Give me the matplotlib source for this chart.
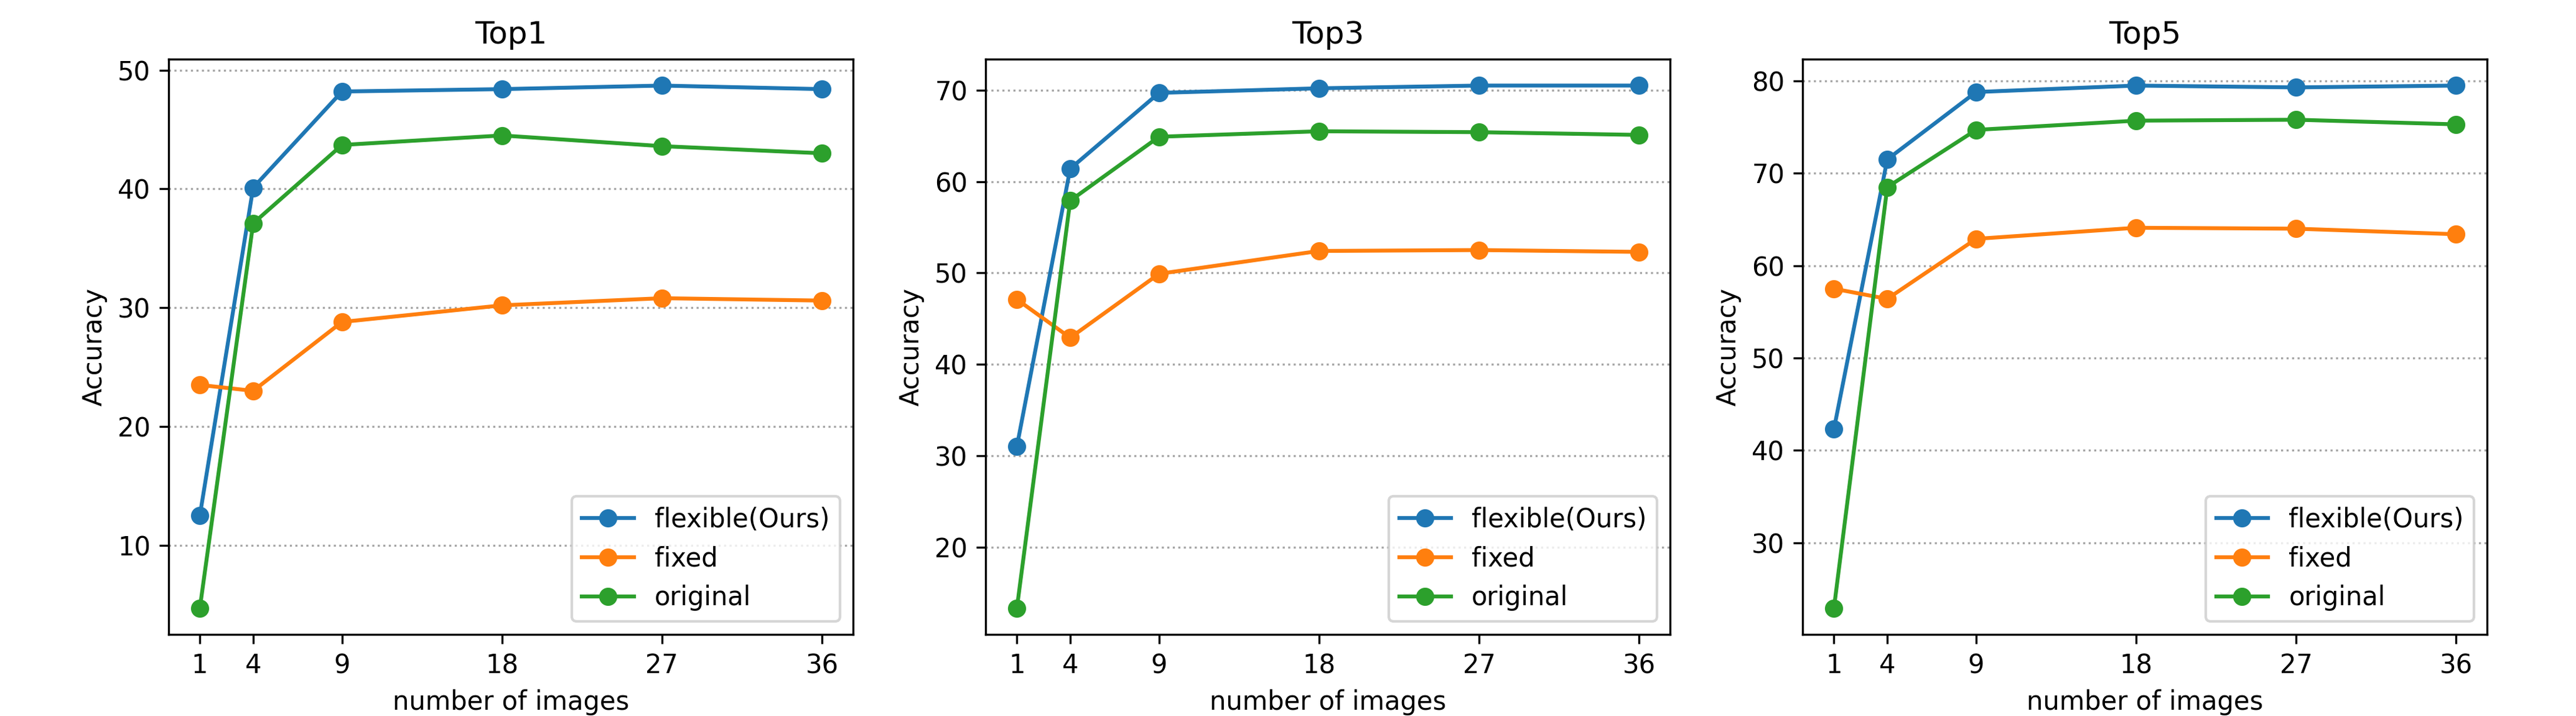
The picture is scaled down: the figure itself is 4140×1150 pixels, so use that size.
import numpy as np
import matplotlib
matplotlib.use("Agg")
import matplotlib.pyplot as plt

# Datos
num_imagenes = [1, 4, 9, 18, 27, 36]
titulos = ["Top1", "Top3", "Top5"]

flexible_top1 = [12.5, 40.1, 48.2, 48.4, 48.7, 48.4]
fixed_top1 = [23.5, 23.0, 28.8, 30.2, 30.8, 30.6]
original_top1 = [4.7, 37.1, 43.7, 44.5, 43.6, 43.0]

flexible_top3 = [31.0, 61.4, 69.7, 70.2, 70.5, 70.5]
fixed_top3 = [47.1, 42.9, 49.9, 52.4, 52.5, 52.3]
original_top3 = [13.3, 57.9, 64.9, 65.5, 65.4, 65.1]

flexible_top5 = [42.3, 71.5, 78.8, 79.5, 79.3, 79.5]
fixed_top5 = [57.5, 56.4, 62.9, 64.1, 64.0, 63.4]
original_top5 = [22.9, 68.5, 74.7, 75.7, 75.8, 75.3]

flexible = [flexible_top1, flexible_top3, flexible_top5]
fixed = [fixed_top1, fixed_top3, fixed_top5]
original = [original_top1, original_top3, original_top5]

fig, axes = plt.subplots(1, 3, figsize=(13.8, 1150 / 300))
fig.subplots_adjust(left=0.0655, right=0.9655, bottom=0.114, top=0.917, wspace=0.194)

for i, ax in enumerate(axes):
    ax.plot(num_imagenes, flexible[i], marker="o", label="flexible(Ours)")
    ax.plot(num_imagenes, fixed[i], marker="o", label="fixed")
    ax.plot(num_imagenes, original[i], marker="o", label="original")
    ax.set_title(titulos[i])
    ax.set_xticks(num_imagenes)
    ax.set_xlabel("number of images")
    ax.set_ylabel("Accuracy")
    ax.grid(axis="y", linestyle=":", color="gray", alpha=0.7)  # cuadrícula punteada
    ax.legend(loc="lower right")

fig.savefig("out.png", dpi=300)
